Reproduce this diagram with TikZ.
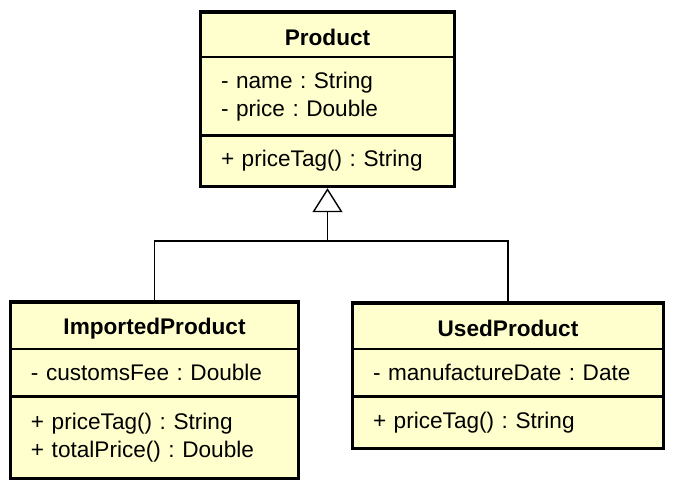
\documentclass[tikz,border=0pt]{standalone}
\usepackage{fontspec}
\setmainfont{Liberation Sans}
\usetikzlibrary{positioning,arrows.meta}
\definecolor{classfill}{HTML}{FFFFCE}

\begin{document}
\frenchspacing
\begin{tikzpicture}[x=1pt,y=1pt,
  compart/.style={draw, line width=0.6pt, fill=classfill, inner xsep=10pt, inner ysep=0pt,
    font=\fontsize{11.3}{14}\selectfont},
  header/.style={compart, align=center, anchor=north, text height=11pt, font=\fontsize{11.3}{14}\selectfont\bfseries},
  members/.style={compart, align=left, below=0pt of #1},
  outline/.style={line width=1.7pt},
  connector/.style={line width=0.7pt},
  generalize/.style={connector, shorten >=0.8pt, -{Triangle[open, width=15pt, length=12pt, fill=white]}}]
\useasboundingbox (0,0) rectangle (338,-244.5);

\node (product) [header, text width=106.5pt, minimum height=22pt] at (163.75,-6) {Product};
\node (productAttr) [members=product, text width=106.5pt, minimum height=38.5pt] {- name : String\\- price : Double};
\node (productOps) [members=productAttr, text width=106.5pt, minimum height=25pt] {+ priceTag() : String};
\draw [outline] (product.north west) rectangle (productOps.south east);

\node (imported) [header, text width=123.5pt, minimum height=23pt] at (77.25,-151) {ImportedProduct};
\node (importedAttr) [members=imported, text width=123.5pt, minimum height=23pt] {- customsFee : Double};
\node (importedOps) [members=importedAttr, text width=123.5pt, minimum height=40.5pt] {+ priceTag() : String\\+ totalPrice() : Double};
\draw [outline] (imported.north west) rectangle (importedOps.south east);

\node (used) [header, text width=135pt, minimum height=22.5pt] at (254,-151.5) {UsedProduct};
\node (usedAttr) [members=used, text width=135pt, minimum height=23pt] {- manufactureDate : Date};
\node (usedOps) [members=usedAttr, text width=135pt, minimum height=25.5pt] {+ priceTag() : String};
\draw [outline] (used.north west) rectangle (usedOps.south east);

\coordinate (fork) at (163.75,-120.5);
\draw [generalize] (fork) -- (productOps.south);
\draw [connector] (imported.north) |- (fork) -| (used.north);
\end{tikzpicture}
\end{document}
